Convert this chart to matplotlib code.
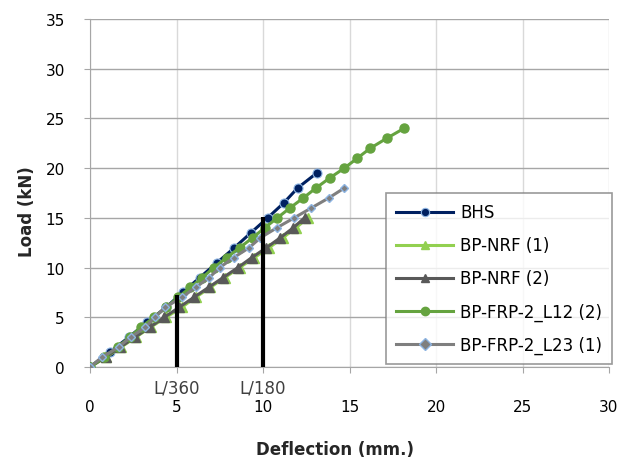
import matplotlib
matplotlib.use("Agg")
import matplotlib.pyplot as plt
import matplotlib.transforms as mtransforms

# deflection (mm) / load (kN)
bhs_x = [0, 1.15, 2.25, 3.3, 4.4, 5.35, 6.35, 7.35, 8.35, 9.3, 10.27, 11.2, 12.0, 13.1]
bhs_y = [0, 1.5, 3, 4.5, 6, 7.5, 9, 10.5, 12, 13.5, 15, 16.5, 18, 19.5]

nrf1_x = [0, 0.95, 1.8, 2.65, 3.5, 4.4, 5.3, 6.1, 6.95, 7.8, 8.65, 9.5, 10.35, 11.15, 11.9, 12.6]
nrf1_y = [0, 1, 2, 3, 4, 5, 6, 7, 8, 9, 10, 11, 12, 13, 14, 15]

nrf2_x = [0, 0.9, 1.75, 2.6, 3.45, 4.3, 5.15, 6.0, 6.85, 7.7, 8.55, 9.35, 10.2, 11.0, 11.75, 12.4]
nrf2_y = [0, 1, 2, 3, 4, 5, 6, 7, 8, 9, 10, 11, 12, 13, 14, 15]

l12_x = [0, 0.8, 1.6, 2.3, 2.95, 3.7, 4.4, 5.1, 5.8, 6.5, 7.15, 7.9, 8.65, 9.4, 10.1,
         10.83, 11.56, 12.33, 13.06, 13.85, 14.7, 15.45, 16.2, 17.15, 18.15]
l12_y = list(range(25))

l23_x = [0, 0.7, 1.65, 2.35, 3.2, 3.75, 4.35, 5.3, 6.1, 6.9, 7.5, 8.3, 9.2, 9.85, 10.8,
         11.8, 12.8, 13.8, 14.7]
l23_y = list(range(19))

limit_x = [5, 10]
limit_y = [7.2, 15.1]
limit_labels = ["L/360", "L/180"]

fig = plt.figure(figsize=(6.35, 4.6), dpi=100)
ax = fig.add_axes([90 / 635, 1 - 368 / 460, 519 / 635, 348 / 460])

ax.plot(bhs_x, bhs_y, color="#002060", lw=2.2, marker="o", ms=6.5,
        mfc="#002060", mec="#8DB4E2", mew=0.8, label="BHS", zorder=3)
ax.plot(nrf1_x, nrf1_y, color="#92D050", lw=2.2, marker="^", ms=7.5,
        mfc="#92D050", mec="#92D050", label="BP-NRF (1)", zorder=3)
ax.plot(nrf2_x, nrf2_y, color="#595959", lw=2.2, marker="^", ms=7.5,
        mfc="#595959", mec="#595959", label="BP-NRF (2)", zorder=3)
ax.plot(l12_x, l12_y, color="#65A33F", lw=2.2, marker="o", ms=6.5,
        mfc="#65A33F", mec="#65A33F", label="BP-FRP-2_L12 (2)", zorder=3)
ax.plot(l23_x, l23_y, color="#7F7F7F", lw=2.2, marker="D", ms=4.5,
        mfc="#7F7F7F", mec="#8DB4E2", mew=1.0, label="BP-FRP-2_L23 (1)", zorder=3)

# serviceability limits
for x, y in zip(limit_x, limit_y):
    ax.plot([x, x], [0, y], color="black", lw=3, solid_capstyle="butt", zorder=4)
trans = mtransforms.blended_transform_factory(ax.transData, ax.transAxes)
for x, lab in zip(limit_x, limit_labels):
    ax.text(x, -0.058, lab, transform=trans, ha="center", va="center",
            fontsize=12, color="#404040", clip_on=False)

ax.set_xlim(0, 30)
ax.set_ylim(0, 35)
ax.set_xticks(range(0, 31, 5))
ax.set_yticks(range(0, 36, 5))
ax.grid(axis="y", color="#A6A6A6", lw=1)
ax.grid(axis="x", color="#D9D9D9", lw=1)
ax.set_axisbelow(True)
for s in ["top", "right"]:
    ax.spines[s].set_visible(False)
for s in ["left", "bottom"]:
    ax.spines[s].set_color("#A6A6A6")
ax.tick_params(axis="both", length=4, color="#A6A6A6", labelsize=11, labelcolor="black")
ax.tick_params(axis="x", pad=19)
ax.tick_params(axis="y", pad=14)

ax.set_xlabel("Deflection (mm.)", fontsize=12, fontweight="bold", color="#262626", va="center")
ax.xaxis.set_label_coords(0.472, -0.236)
ax.set_ylabel("Load (kN)", fontsize=12, fontweight="bold", color="#262626", va="center")
ax.yaxis.set_label_coords(-0.121, 0.448)

leg = ax.legend(loc="lower right", bbox_to_anchor=(1.006, 0.009), fontsize=12,
                handlelength=3.4, frameon=True, fancybox=False, edgecolor="#808080",
                borderpad=0.6, labelspacing=0.9, handletextpad=0.42, borderaxespad=0)
leg.get_frame().set_linewidth(1.2)
for h in leg.legend_handles:
    h.set_markersize(6)

fig.savefig("out.png", dpi=100)
